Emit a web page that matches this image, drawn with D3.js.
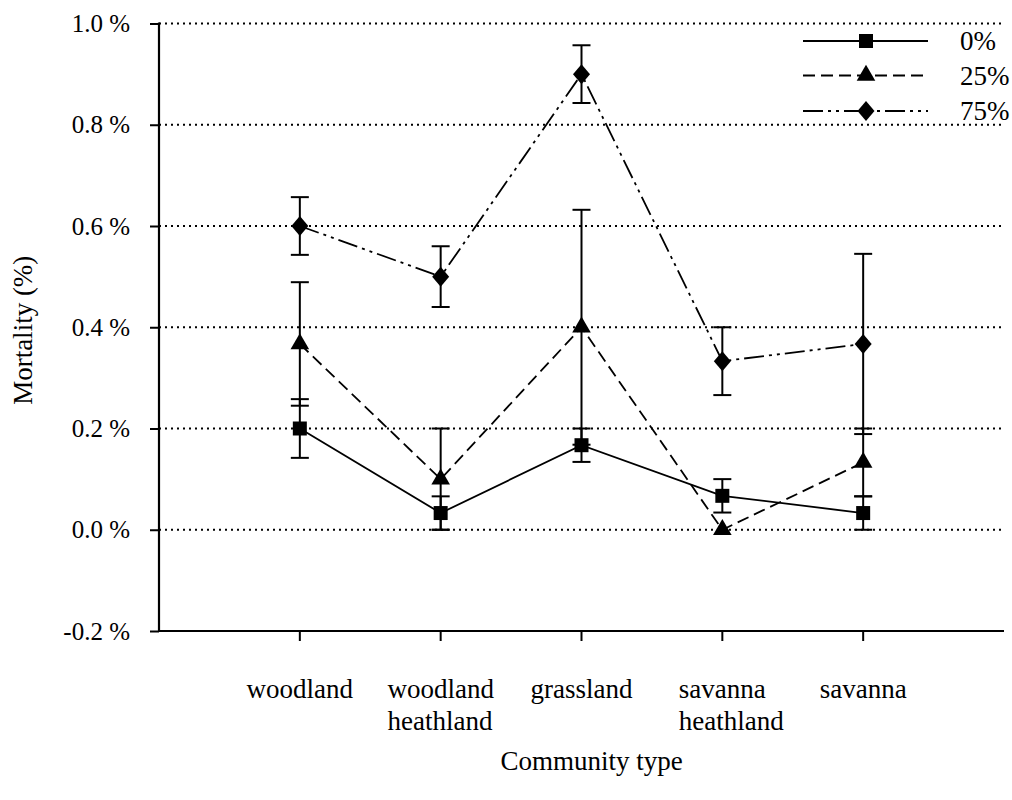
<!DOCTYPE html>
<html>
<head>
<meta charset="utf-8">
<script src="https://cdn.jsdelivr.net/npm/d3@7"></script>
<style>
  html, body { margin: 0; padding: 0; background: #fff; }
  svg text { font-family: "Liberation Serif", "Times New Roman", serif; fill: #000; }
</style>
</head>
<body>
<svg id="chart" width="1012" height="800"></svg>
<script>
// ---- data ----
const categories = [["woodland"], ["woodland", "heathland"], ["grassland"], ["savanna", "heathland"], ["savanna"]];
const seriesNames = ["0%", "25%", "75%"];
const values0  = [0.200, 0.033, 0.167, 0.067, 0.033];
const errors0  = [0.058, 0.033, 0.033, 0.033, 0.033];
const values25 = [0.367, 0.100, 0.400, 0.000, 0.133];
const errors25 = [0.122, 0.100, 0.232, 0.000, 0.067];
const values75 = [0.600, 0.500, 0.900, 0.333, 0.367];
const errors75 = [0.057, 0.060, 0.057, 0.067, 0.178];
const yTicks = [-0.2, 0.0, 0.2, 0.4, 0.6, 0.8, 1.0];
const yTitle = "Mortality (%)";
const xTitle = "Community type";

const series = [
  {name: seriesNames[0], values: values0, errors: errors0, dash: null, marker: "square"},
  {name: seriesNames[1], values: values25, errors: errors25, dash: "12,6", marker: "triangle"},
  {name: seriesNames[2], values: values75, errors: errors75, dash: "20,5,3,5,3,5", marker: "diamond"}
];

// ---- layout ----
const svg = d3.select("#chart");
const pLeft = 159, pRight = 1004, pTop = 23.5, pBottom = 631;

const x = d3.scaleLinear().domain([0, categories.length + 1]).range([pLeft, pRight]);
const y = d3.scaleLinear().domain([-0.2, 1.0]).range([pBottom, pTop]);

// gridlines
svg.append("g").selectAll("line").data(yTicks.filter(d => d > -0.2)).join("line")
  .attr("x1", pLeft).attr("x2", pRight)
  .attr("y1", d => y(d)).attr("y2", d => y(d))
  .attr("stroke", "#000").attr("stroke-width", 2).attr("stroke-dasharray", "2,4");

// y axis
const yAxis = d3.axisLeft(y).tickValues(yTicks).tickSize(9).tickPadding(20)
  .tickFormat(d => d3.format(".1f")(d).replace("−", "-") + " %");
const gy = svg.append("g").attr("transform", `translate(${pLeft},0)`).call(yAxis);
gy.attr("font-family", null);
gy.select(".domain").remove();
gy.selectAll(".tick line").attr("stroke-width", 2);
gy.selectAll(".tick text").attr("font-size", 25);
svg.append("line").attr("x1", pLeft).attr("x2", pLeft).attr("y1", pTop - 1).attr("y2", pBottom + 1)
  .attr("stroke", "#000").attr("stroke-width", 2.2);

// x axis
svg.append("line").attr("x1", pLeft).attr("x2", pRight).attr("y1", pBottom).attr("y2", pBottom)
  .attr("stroke", "#000").attr("stroke-width", 2.2);
svg.append("g").selectAll("line").data(categories).join("line")
  .attr("x1", (d, i) => x(i + 1)).attr("x2", (d, i) => x(i + 1))
  .attr("y1", pBottom).attr("y2", pBottom + 10)
  .attr("stroke", "#000").attr("stroke-width", 2);

// category labels
const catG = svg.append("g");
categories.forEach((lines, i) => {
  const t = catG.append("text").attr("font-size", 27).attr("text-anchor", "start");
  lines.forEach((ln, j) => {
    t.append("tspan").attr("x", x(i + 1)).attr("y", 698 + j * 32).text(ln);
  });
  const w = t.select("tspan").node().getComputedTextLength();
  t.selectAll("tspan").attr("x", x(i + 1) - w / 2);
});

// axis titles
svg.append("text").attr("x", (pLeft + pRight) / 2 + 10).attr("y", 770)
  .attr("text-anchor", "middle").attr("font-size", 27).text(xTitle);
svg.append("text").attr("transform", `translate(32,${(pTop + pBottom) / 2 + 3}) rotate(-90)`)
  .attr("text-anchor", "middle").attr("font-size", 27).text(yTitle);

// markers
function markerPath(type) {
  if (type === "square") return "M-7,-7H7V7H-7Z";
  if (type === "triangle") return d3.symbol(d3.symbolTriangle, 150)();
  return "M0,-10L8.5,0L0,10L-8.5,0Z";
}

// error bars
const capW = 9;
series.forEach(s => {
  const g = svg.append("g");
  s.values.forEach((v, i) => {
    const e = s.errors[i];
    if (e <= 0) return;
    const cx = x(i + 1);
    g.append("line").attr("x1", cx).attr("x2", cx).attr("y1", y(v - e)).attr("y2", y(v + e))
      .attr("stroke", "#000").attr("stroke-width", 2);
    [v - e, v + e].forEach(b => {
      g.append("line").attr("x1", cx - capW).attr("x2", cx + capW).attr("y1", y(b)).attr("y2", y(b))
        .attr("stroke", "#000").attr("stroke-width", 2);
    });
  });
});

// lines
const line = d3.line().x((d, i) => x(i + 1)).y(d => y(d));
series.forEach(s => {
  svg.append("path").datum(s.values).attr("d", line)
    .attr("fill", "none").attr("stroke", "#000").attr("stroke-width", 1.8)
    .attr("stroke-dasharray", s.dash);
  svg.append("g").selectAll("path").data(s.values).join("path")
    .attr("d", markerPath(s.marker))
    .attr("transform", (d, i) => `translate(${x(i + 1)},${y(d)})`)
    .attr("fill", "#000");
});

// legend
const legY = [41, 75.5, 111];
const lg = svg.append("g");
series.forEach((s, k) => {
  lg.append("line").attr("x1", 803).attr("x2", 928).attr("y1", legY[k]).attr("y2", legY[k])
    .attr("stroke", "#000").attr("stroke-width", 1.8).attr("stroke-dasharray", s.dash);
  lg.append("path").attr("d", markerPath(s.marker))
    .attr("transform", `translate(866,${legY[k]})`).attr("fill", "#000");
  lg.append("text").attr("x", 960).attr("y", legY[k]).attr("dy", "0.35em")
    .attr("font-size", 27).text(s.name);
});
</script>
</body>
</html>
